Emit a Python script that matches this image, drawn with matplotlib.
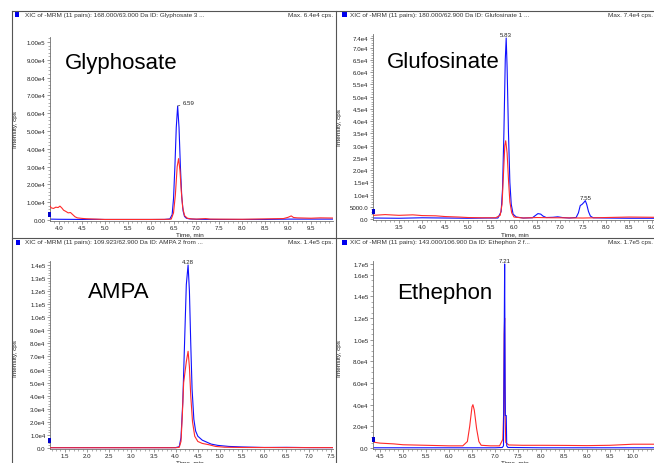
import matplotlib
matplotlib.use('Agg')
import matplotlib.pyplot as plt
from matplotlib.lines import Line2D
from matplotlib.patches import Rectangle
from matplotlib.ticker import FixedLocator, MultipleLocator

plt.rcParams['font.family'] = ['Liberation Sans', 'DejaVu Sans']

# ---------------- data ----------------
# Glyphosate
gly_blue_t = [3.80, 4.00, 4.30, 4.50, 4.80, 5.00, 5.50, 6.00, 6.30, 6.42, 6.47, 6.50, 6.53, 6.56, 6.59,
              6.62, 6.65, 6.68, 6.71, 6.74, 6.78, 6.85, 7.00, 7.50, 8.00, 8.50, 9.00, 9.50, 9.98]
gly_blue_i = [500, 400, 350, 300, 350, 300, 300, 300, 300, 600, 3000, 12000, 30000, 52000, 64000,
              52000, 30000, 13000, 5000, 2000, 1000, 600, 400, 300, 300, 300, 500, 500, 500]
gly_red_t = [3.80, 3.83, 3.88, 3.93, 3.98, 4.02, 4.06, 4.10, 4.15, 4.20, 4.25, 4.30, 4.35, 4.40, 4.50,
             4.60, 4.80, 5.00, 5.50, 6.00, 6.40, 6.45, 6.50, 6.54, 6.58, 6.61, 6.64, 6.67, 6.70, 6.74,
             6.80, 6.90, 7.00, 7.20, 7.30, 8.00, 8.90, 9.00, 9.07, 9.12, 9.20, 9.50, 9.70, 9.98]
gly_red_i = [8000, 6800, 6500, 7200, 7000, 7800, 6800, 5500, 4800, 4000, 4200, 3000, 1800, 1200, 900,
             700, 500, 300, 300, 300, 400, 500, 4000, 14000, 30000, 34500, 28000, 16000, 7000, 2500,
             1000, 600, 500, 800, 500, 400, 800, 1500, 2300, 1400, 1200, 1000, 1200, 1100]

# Glufosinate
glu_blue_t = [2.94, 3.50, 4.00, 4.50, 5.00, 5.40, 5.65, 5.72, 5.75, 5.78, 5.81, 5.83, 5.85, 5.88, 5.91,
              5.94, 5.98, 6.05, 6.20, 6.40, 6.47, 6.52, 6.58, 6.63, 6.70, 6.85, 6.95, 7.05, 7.20,
              7.35, 7.40, 7.44, 7.48, 7.52, 7.55, 7.58, 7.62, 7.66, 7.72, 8.00, 8.50, 9.05]
glu_blue_i = [400, 300, 500, 400, 300, 400, 400, 3000, 12000, 35000, 65000, 74000, 62000, 35000, 15000,
              6000, 2000, 800, 400, 500, 1500, 2200, 2000, 1200, 600, 700, 900, 600, 400,
              600, 2500, 5500, 6000, 6800, 7500, 6000, 3000, 1200, 500, 400, 300, 300]
glu_red_t = [2.94, 3.20, 3.50, 3.80, 4.00, 4.30, 4.50, 4.80, 5.00, 5.30, 5.60, 5.70, 5.74, 5.77, 5.80,
             5.82, 5.85, 5.88, 5.91, 5.95, 6.00, 6.20, 6.50, 6.80, 7.00, 7.50, 8.00, 8.50, 9.05]
glu_red_i = [1500, 1800, 1500, 1700, 1400, 1300, 1000, 800, 600, 500, 500, 1500, 6000, 18000, 30000,
             32000, 27000, 16000, 7000, 2500, 800, 400, 600, 500, 500, 400, 600, 800, 700]

# AMPA
ampa_blue_t = [1.16, 2.00, 3.00, 4.00, 4.08, 4.12, 4.16, 4.20, 4.24, 4.28, 4.31, 4.34, 4.37, 4.41, 4.45,
               4.50, 4.60, 4.70, 4.80, 4.95, 5.20, 5.50, 6.00, 6.50, 7.00, 7.55]
ampa_blue_i = [300, 300, 300, 300, 1000, 8000, 35000, 80000, 125000, 140000, 120000, 80000, 45000, 22000, 13000,
               9000, 6000, 4500, 3000, 2000, 1200, 800, 400, 500, 300, 300]
ampa_red_t = [1.16, 2.00, 3.00, 4.00, 4.08, 4.12, 4.15, 4.18, 4.21, 4.24, 4.28, 4.31, 4.34, 4.38, 4.43,
              4.50, 4.60, 4.75, 4.90, 5.10, 5.50, 6.50, 7.55]
ampa_red_i = [200, 200, 200, 200, 500, 5000, 25000, 50000, 58000, 66000, 74000, 62000, 40000, 20000, 9000,
              5000, 3500, 2500, 1200, 600, 400, 300, 300]

# Ethephon
eth_blue_t = [4.35, 5.00, 6.00, 7.00, 7.16, 7.185, 7.20, 7.21, 7.22, 7.225, 7.245, 7.255, 7.28, 8.00, 9.00, 10.46]
eth_blue_i = [200, 200, 200, 200, 500, 2000, 100000, 170000, 60000, 30000, 30000, 2000, 500, 200, 200, 200]
eth_red_t = [4.35, 4.50, 4.80, 5.00, 5.50, 6.00, 6.30, 6.40, 6.45, 6.50, 6.52, 6.55, 6.60, 6.65, 6.70,
             6.90, 7.10, 7.17, 7.19, 7.20, 7.21, 7.22, 7.235, 7.30, 7.60, 8.00, 8.50, 9.00, 9.50, 10.00, 10.46]
eth_red_i = [5500, 4500, 3800, 3000, 2500, 2000, 2000, 6000, 20000, 38000, 40000, 35000, 18000, 6000, 2500,
             2000, 2000, 8000, 35000, 105000, 120000, 30000, 5000, 2800, 2500, 2500, 2400, 2200, 2500, 3500, 3500]

# tick labels
gly_yticks = [0, 10000, 20000, 30000, 40000, 50000, 60000, 70000, 80000, 90000, 100000]
gly_ylabels = ['0.00', '1.00e4', '2.00e4', '3.00e4', '4.00e4', '5.00e4', '6.00e4', '7.00e4', '8.00e4', '9.00e4', '1.00e5']
glu_yticks = [0, 5000, 10000, 15000, 20000, 25000, 30000, 35000, 40000, 45000, 50000, 55000, 60000, 65000, 70000, 74000]
glu_ylabels = ['0.0', '5000.0', '1.0e4', '1.5e4', '2.0e4', '2.5e4', '3.0e4', '3.5e4', '4.0e4', '4.5e4', '5.0e4',
               '5.5e4', '6.0e4', '6.5e4', '7.0e4', '7.4e4']
ampa_yticks = [0, 10000, 20000, 30000, 40000, 50000, 60000, 70000, 80000, 90000, 100000, 110000, 120000, 130000, 140000]
ampa_ylabels = ['0.0', '1.0e4', '2.0e4', '3.0e4', '4.0e4', '5.0e4', '6.0e4', '7.0e4', '8.0e4', '9.0e4', '1.0e5',
                '1.1e5', '1.2e5', '1.3e5', '1.4e5']
eth_yticks = [0, 20000, 40000, 60000, 80000, 100000, 120000, 140000, 160000, 170000]
eth_ylabels = ['0.0', '2.0e4', '4.0e4', '6.0e4', '8.0e4', '1.0e5', '1.2e5', '1.4e5', '1.6e5', '1.7e5']

gly_xticks = [4.0, 4.5, 5.0, 5.5, 6.0, 6.5, 7.0, 7.5, 8.0, 8.5, 9.0, 9.5]
glu_xticks = [3.5, 4.0, 4.5, 5.0, 5.5, 6.0, 6.5, 7.0, 7.5, 8.0, 8.5, 9.0]
ampa_xticks = [1.5, 2.0, 2.5, 3.0, 3.5, 4.0, 4.5, 5.0, 5.5, 6.0, 6.5, 7.0, 7.5]
eth_xticks = [4.5, 5.0, 5.5, 6.0, 6.5, 7.0, 7.5, 8.0, 8.5, 9.0, 9.5, 10.0]

names = ['Glyphosate', 'Glufosinate', 'AMPA', 'Ethephon']
headers = ['XIC of -MRM (11 pairs): 168.000/63.000 Da ID: Glyphosate 3 ...',
           'XIC of -MRM (11 pairs): 180.000/62.900 Da ID: Glufosinate 1 ...',
           'XIC of -MRM (11 pairs): 109.923/62.900 Da ID: AMPA 2 from ...',
           'XIC of -MRM (11 pairs): 143.000/106.900 Da ID: Ethephon 2 f...']
max_labels = ['Max. 6.4e4 cps.', 'Max. 7.4e4 cps.', 'Max. 1.4e5 cps.', 'Max. 1.7e5 cps.']
peaks = [[(6.59, 64000, '6.59')], [(5.83, 74000, '5.83'), (7.55, 7500, '7.55')],
         [(4.28, 140000, '4.28')], [(7.21, 170000, '7.21')]]

# ---------------- layout ----------------
W, H = 654, 464
fig = plt.figure(figsize=(W / 100, H / 100), dpi=100)
fig.patch.set_facecolor('white')


def box(l, t, r, b):
    return [l / W, 1 - b / H, (r - l) / W, (b - t) / H]


BLUE = '#1010ff'
RED = '#ff2a2a'
GREY = '#707070'
TFS = 4.4

panels = [
    dict(pos=(50, 38, 333, 222), xlim=(3.803, 9.982), ylim=(-562, 102809),
         bt=gly_blue_t, bi=gly_blue_i, rt=gly_red_t, ri=gly_red_i,
         yt=gly_yticks, yl=gly_ylabels, xt=gly_xticks, ymin=2000,
         name_xy=(65, 63), hdr_xy=(25, 15.5), sq=(14.5, 12.5), maxr=333, tl=(190, 235),
         il=(15, 130), mk=(47.5, 213), rz=3),
    dict(pos=(373, 35, 654, 221), xlim=(2.935, 9.043), ylim=(-409, 75636),
         bt=glu_blue_t, bi=glu_blue_i, rt=glu_red_t, ri=glu_red_i,
         yt=glu_yticks, yl=glu_ylabels, xt=glu_xticks, ymin=1000,
         name_xy=(387, 63), hdr_xy=(350, 15.5), sq=(342, 12.5), maxr=653, tl=(515, 235),
         il=(340, 128), mk=(372, 210), rz=3),
    dict(pos=(50, 262, 333, 450), xlim=(1.163, 7.551), ylim=(-765, 143060),
         bt=ampa_blue_t, bi=ampa_blue_i, rt=ampa_red_t, ri=ampa_red_i,
         yt=ampa_yticks, yl=ampa_ylabels, xt=ampa_xticks, ymin=2000,
         name_xy=(88, 293), hdr_xy=(25, 243), sq=(15.5, 240.5), maxr=333, tl=(190, 463),
         il=(15, 359), mk=(47.5, 439), rz=3),
    dict(pos=(373, 262, 654, 450), xlim=(4.348, 10.457), ylim=(-924, 172772),
         bt=eth_blue_t, bi=eth_blue_i, rt=eth_red_t, ri=eth_red_i,
         yt=eth_yticks, yl=eth_ylabels, xt=eth_xticks, ymin=5000,
         name_xy=(397, 293), hdr_xy=(350, 243), sq=(342, 240.5), maxr=653, tl=(515, 463),
         il=(340, 359), mk=(372, 438), rz=1),
]

for k, p in enumerate(panels):
    ax = fig.add_axes(box(*p['pos']))
    ax.set_facecolor('none')
    ax.plot(p['bt'], p['bi'], color=BLUE, lw=0.8, zorder=2)
    ax.plot(p['rt'], p['ri'], color=RED, lw=0.8, zorder=p['rz'])
    ax.set_xlim(*p['xlim'])
    ax.set_ylim(*p['ylim'])
    for s in ['top', 'right']:
        ax.spines[s].set_visible(False)
    for s in ['left', 'bottom']:
        ax.spines[s].set_color(GREY)
        ax.spines[s].set_linewidth(0.6)
    ax.yaxis.set_major_locator(FixedLocator(p['yt']))
    ax.set_yticklabels(p['yl'])
    ax.yaxis.set_minor_locator(MultipleLocator(p['ymin']))
    ax.xaxis.set_major_locator(FixedLocator(p['xt']))
    ax.set_xticklabels(['%.1f' % v for v in p['xt']])
    ax.xaxis.set_minor_locator(MultipleLocator(0.1))
    ax.tick_params(axis='both', which='major', labelsize=TFS, length=2.2, width=0.5,
                   color=GREY, pad=1, labelcolor='#222222')
    ax.tick_params(axis='both', which='minor', length=1.2, width=0.4, color=GREY)
    for (pt, pi, lab) in peaks[k]:
        if k == 0:
            ax.annotate(lab, xy=(pt, pi), xytext=(5, 4), textcoords='offset pixels',
                        ha='left', va='center', fontsize=TFS, color='#222222',
                        arrowprops=dict(arrowstyle='-', color='#444444', lw=0.5,
                                        shrinkA=0, shrinkB=0))
        else:
            ax.annotate(lab, xy=(pt, pi), xytext=(0, 1), textcoords='offset pixels',
                        ha='center', va='bottom', fontsize=TFS, color='#222222')
    # compound name
    fig.text(p['name_xy'][0] / W, 1 - p['name_xy'][1] / H, names[k], fontsize=16,
             ha='left', va='center', color='black')
    # header
    fig.text(p['hdr_xy'][0] / W, 1 - p['hdr_xy'][1] / H, headers[k], fontsize=4.6,
             ha='left', va='center', color='#333333')
    fig.text(p['maxr'] / W, 1 - p['hdr_xy'][1] / H, max_labels[k], fontsize=4.6,
             ha='right', va='center', color='#333333')
    fig.add_artist(Rectangle((p['sq'][0] / W, 1 - (p['sq'][1] + 5) / H), 4.5 / W, 5 / H,
                             transform=fig.transFigure, facecolor='#0000ee', edgecolor='none'))
    fig.add_artist(Rectangle((p['mk'][0] / W, 1 - (p['mk'][1] + 5) / H), 3 / W, 5 / H,
                             transform=fig.transFigure, facecolor='#0000cc', edgecolor='none'))
    # axis labels
    fig.text(p['tl'][0] / W, 1 - p['tl'][1] / H, 'Time, min', fontsize=4.6,
             ha='center', va='center', color='#222222')
    fig.text(p['il'][0] / W, 1 - p['il'][1] / H, 'Intensity, cps', fontsize=4.6,
             ha='center', va='center', rotation=90, color='#222222')

# panel borders
BC = '#555555'
fig.add_artist(Line2D([12 / W, 1], [1 - 12 / H, 1 - 12 / H], color=BC, lw=0.8))
fig.add_artist(Line2D([12 / W, 1], [1 - 239.3 / H, 1 - 239.3 / H], color=BC, lw=0.8))
fig.add_artist(Line2D([12 / W, 12 / W], [0, 1 - 12 / H], color=BC, lw=0.8))
fig.add_artist(Line2D([336 / W, 336 / W], [0, 1 - 12 / H], color=BC, lw=0.8))

fig.savefig('out.png', dpi=100, facecolor='white')
